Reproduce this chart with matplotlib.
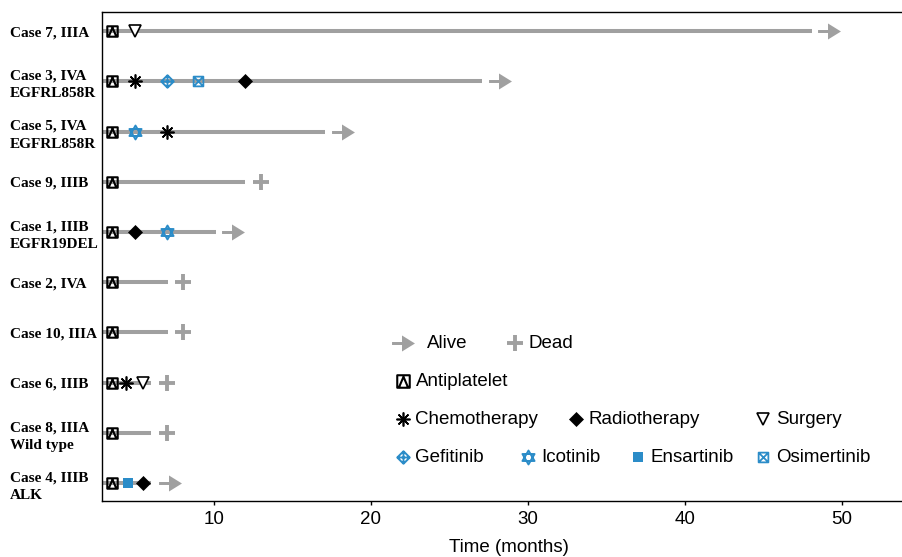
import numpy as np
import matplotlib
matplotlib.use('Agg')
import matplotlib.pyplot as plt
from matplotlib.path import Path

# cases from top to bottom
cases = ['Case 7, IIIA', 'Case 3, IVA\nEGFRL858R', 'Case 5, IVA\nEGFRL858R', 'Case 9, IIIB',
         'Case 1, IIIB\nEGFR19DEL', 'Case 2, IVA', 'Case 10, IIIA', 'Case 6, IIIB',
         'Case 8, IIIA\nWild type', 'Case 4, IIIB\nALK']
line_end = [48.1, 27.1, 17.1, 12.0, 10.1, 7.1, 7.1, 6.0, 6.0, 6.0]
outcome = ['alive', 'alive', 'alive', 'dead', 'alive', 'dead', 'dead', 'dead', 'dead', 'alive']
outcome_time = [49.2, 28.2, 18.2, 13.0, 11.2, 8.0, 8.0, 7.0, 7.0, 7.2]

antiplatelet_time = [3.5] * 10
chemo_case = ['Case 3', 'Case 5', 'Case 6']
chemo_time = [5.0, 7.0, 4.4]
radio_case = ['Case 3', 'Case 1', 'Case 4']
radio_time = [12.0, 5.0, 5.5]
surgery_case = ['Case 7', 'Case 6']
surgery_time = [5.0, 5.45]
gefitinib_case = ['Case 3']
gefitinib_time = [7.0]
icotinib_case = ['Case 5', 'Case 1']
icotinib_time = [5.0, 7.0]
ensartinib_case = ['Case 4']
ensartinib_time = [4.5]
osimertinib_case = ['Case 3']
osimertinib_time = [9.0]

GRAY = '#a0a0a0'
BLUE = '#2b8cc8'

# custom markers
M, L, C = Path.MOVETO, Path.LINETO, Path.CLOSEPOLY
arrow_m = Path([(-1, -0.13), (-0.13, -0.13), (-0.13, -0.7), (1, 0), (-0.13, 0.7),
                (-0.13, 0.13), (-1, 0.13), (-1, -0.13)], [M, L, L, L, L, L, L, C])
anti_m = Path([(-1, -1), (1, -1), (1, 1), (-1, 1), (-1, -1),
               (-0.75, -1), (0, 0.75), (0.75, -1)],
              [M, L, L, L, C, M, L, L])
gef_m = Path([(0, -1), (1, 0), (0, 1), (-1, 0), (0, -1),
              (0, -1), (0, 1), (-1, 0), (1, 0)],
             [M, L, L, L, C, M, L, M, L])
ico_m = Path([(0, 1), (0.87, -0.5), (-0.87, -0.5), (0, 1),
              (0, -1), (0.87, 0.5), (-0.87, 0.5), (0, -1)],
             [M, L, L, C, M, L, L, C])
osi_m = Path([(-1, -1), (1, -1), (1, 1), (-1, 1), (-1, -1),
              (-1, -1), (1, 1), (-1, 1), (1, -1)],
             [M, L, L, L, C, M, L, M, L])

styles = {
    'alive': dict(marker=arrow_m, ms=16.5, color=GRAY, mec=GRAY, mew=0),
    'dead': dict(marker='+', ms=11, color=GRAY, mew=2.8),
    'anti': dict(marker=anti_m, ms=7.5, mfc='none', mec='black', mew=1.5),
    'chemo': dict(marker=(8, 2, 0), ms=10, mec='black', mew=1.2),
    'radio': dict(marker='D', ms=7.5, mfc='black', mec='black', mew=0.5),
    'surgery': dict(marker='v', ms=8.5, mfc='white', mec='black', mew=1.2),
    'gef': dict(marker=gef_m, ms=9, mfc='none', mec=BLUE, mew=1.4),
    'ico': dict(marker=ico_m, ms=10, mfc='none', mec=BLUE, mew=1.4),
    'ens': dict(marker='s', ms=7, mfc=BLUE, mec=BLUE, mew=0),
    'osi': dict(marker=osi_m, ms=7, mfc='none', mec=BLUE, mew=1.3),
}

fig = plt.figure(figsize=(9.03, 5.57), dpi=100)
ax = fig.add_axes([102.5 / 903, 1 - 501 / 557, 805 / 903, 489 / 557])

n = len(cases)
ypos = np.arange(n, 0, -1)
short = [c.split(',')[0] for c in cases]
row = dict(zip(short, ypos))

for y, end in zip(ypos, line_end):
    ax.plot([0, end], [y, y], color=GRAY, lw=2.9, solid_capstyle='butt', zorder=1)
for y, o, t in zip(ypos, outcome, outcome_time):
    ax.plot([t], [y], ls='none', zorder=2, **styles[o])
ax.plot(antiplatelet_time, ypos, ls='none', zorder=3, **styles['anti'])


def events(names, times, key):
    ax.plot(times, [row[c] for c in names], ls='none', zorder=3, **styles[key])


events(chemo_case, chemo_time, 'chemo')
events(radio_case, radio_time, 'radio')
events(surgery_case, surgery_time, 'surgery')
events(gefitinib_case, gefitinib_time, 'gef')
events(icotinib_case, icotinib_time, 'ico')
events(ensartinib_case, ensartinib_time, 'ens')
events(osimertinib_case, osimertinib_time, 'osi')

ax.set_xlim(2.9, 2.9 + 51.0 * 805 / 800.5)
ax.set_ylim(0.641, 10.38)
ax.set_xticks([10, 20, 30, 40, 50])
ax.set_yticks(ypos)
ax.set_yticklabels(cases, ha='left', family='Liberation Serif', fontsize=11,
                   fontweight='bold', linespacing=1.45)
ax.tick_params(axis='y', length=0, pad=66.5)
ax.tick_params(axis='x', direction='out', length=3, width=1, pad=4, labelsize=13.5)
for lab in ax.get_xticklabels():
    lab.set_family('Liberation Sans')
ax.spines['right'].set_visible(False)
for s in ['top', 'left', 'bottom']:
    ax.spines[s].set_linewidth(1.0)
ax.set_xlabel('Time (months)', family='Liberation Sans', fontsize=13.5)
ax.xaxis.set_label_coords(0.505, -0.096)
ax.xaxis.label.set_verticalalignment('center')

# legend drawn by hand
legend_items = [
    ('alive', 'Alive', 403, 427, 343), ('dead', 'Dead', 515, 528, 343),
    ('anti', 'Antiplatelet', 403, 416, 381),
    ('chemo', 'Chemotherapy', 403, 415, 419), ('radio', 'Radiotherapy', 576, 588, 419),
    ('surgery', 'Surgery', 763, 776, 419),
    ('gef', 'Gefitinib', 403, 415, 457), ('ico', 'Icotinib', 528, 541, 457),
    ('ens', 'Ensartinib', 638, 651, 457), ('osi', 'Osimertinib', 763, 776, 457),
]
for key, text, mx, tx, py in legend_items:
    fy = 1 - py / 557
    st = dict(styles[key])
    if key in ('anti',):
        st['ms'] = 9
    fig.add_artist(plt.Line2D([mx / 903], [fy], ls='none', transform=fig.transFigure, **st))
    fig.text(tx / 903, fy, text, va='center', ha='left', family='Liberation Sans', fontsize=13.5)

fig.savefig('out.png', dpi=100)
